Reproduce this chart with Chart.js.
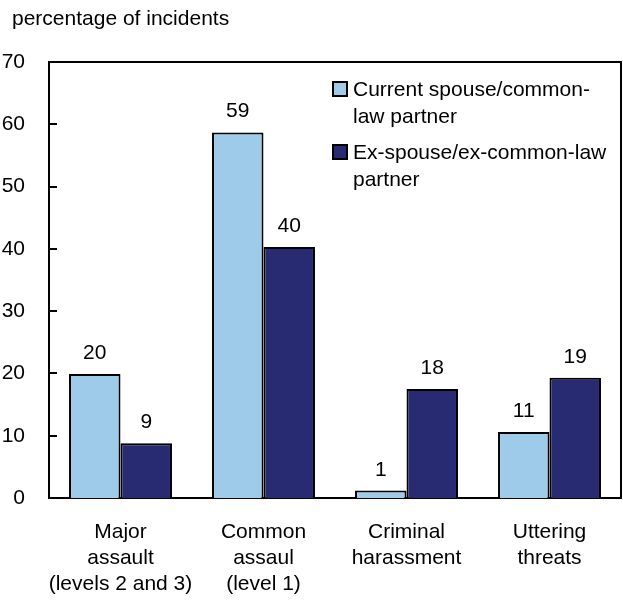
<!DOCTYPE html>
<html>
<head>
<meta charset="utf-8">
<script src="https://cdn.jsdelivr.net/npm/chart.js@4/dist/chart.umd.min.js"></script>
<style>
    body { margin: 0; background: #fff; }
    #wrap { width: 623px; height: 601px; }
</style>
</head>
<body>
<div id="wrap"><canvas id="canvas1"></canvas></div>
<script>
// chart data
let categories = [
    ["Major", "assault", "(levels 2 and 3)"],
    ["Common", "assaul", "(level 1)"],
    ["Criminal", "harassment"],
    ["Uttering", "threats"]
];
let currentSpouse = [19.9, 58.7, 1.2, 10.6];
let exSpouse = [8.8, 40.3, 17.5, 19.3];
let currentLabels = ["20", "59", "1", "11"];
let exLabels = ["9", "40", "18", "19"];
let seriesNames = [
    ["Current spouse/common-", "law partner"],
    ["Ex-spouse/ex-common-law", "partner"]
];
let yTicks = [0, 10, 20, 30, 40, 50, 60, 70];
let yTitle = "percentage of incidents";

const FAMILY = "'Liberation Sans', Arial, sans-serif";
const FONT = "21px " + FAMILY;

// draws the box, inward ticks, value labels, legend and axis title
let extras = {
    id: "extras",
    afterDraw: function (chart) {
        let ctx = chart.ctx;
        let area = chart.chartArea;
        let y = chart.scales.y;
        ctx.save();
        ctx.strokeStyle = "#000";
        ctx.lineWidth = 2;
        ctx.beginPath();
        ctx.moveTo(area.left, area.top);
        ctx.lineTo(area.right, area.top);
        ctx.lineTo(area.right, area.bottom);
        ctx.stroke();
        yTicks.forEach(function (t) {
            let py = Math.round(y.getPixelForValue(t));
            ctx.beginPath();
            ctx.moveTo(area.left, py);
            ctx.lineTo(area.left + 8, py);
            ctx.stroke();
        });

        ctx.font = FONT;
        ctx.fillStyle = "#000";
        ctx.textAlign = "center";
        ctx.textBaseline = "alphabetic";
        let labelSets = [currentLabels, exLabels];
        chart.data.datasets.forEach(function (ds, i) {
            let meta = chart.getDatasetMeta(i);
            meta.data.forEach(function (bar, j) {
                ctx.fillText(labelSets[i][j], bar.x, bar.y - 15);
            });
        });

        // legend
        ctx.textAlign = "left";
        let ly = [82, 145];
        chart.data.datasets.forEach(function (ds, i) {
            ctx.fillStyle = ds.backgroundColor;
            ctx.fillRect(333, ly[i], 14, 14);
            ctx.lineWidth = 2;
            ctx.strokeRect(333, ly[i], 14, 14);
            ctx.fillStyle = "#000";
            seriesNames[i].forEach(function (line, k) {
                ctx.fillText(line, 353, ly[i] + 14 + k * 27);
            });
        });

        ctx.fillText(yTitle, 12, 25);
        ctx.restore();
    }
};

let chartdata = {
    labels: categories,
    datasets: [{
        label: "Current spouse/common-law partner",
        backgroundColor: "#9fcbea",
        borderColor: "#000",
        borderWidth: 2,
        borderSkipped: "bottom",
        data: currentSpouse
    }, {
        label: "Ex-spouse/ex-common-law partner",
        backgroundColor: "#282a72",
        borderColor: "#000",
        borderWidth: 2,
        borderSkipped: "bottom",
        data: exSpouse
    }]
};

new Chart(document.getElementById("canvas1"), {
    type: "bar",
    data: chartdata,
    plugins: [extras],
    options: {
        responsive: true,
        maintainAspectRatio: false,
        animation: false,
        layout: { padding: { top: 62, right: 2, left: 0, bottom: 0 } },
        plugins: {
            legend: { display: false },
            tooltip: { enabled: false }
        },
        datasets: {
            bar: { categoryPercentage: 0.72, barPercentage: 1 }
        },
        scales: {
            x: {
                grid: { display: false },
                border: { display: true, color: "#000", width: 2 },
                ticks: {
                    color: "#000",
                    padding: 13,
                    maxRotation: 0,
                    autoSkip: false,
                    font: { family: FAMILY, size: 21, lineHeight: 1.24 }
                },
                afterFit: function (s) { s.height = 103; }
            },
            y: {
                min: 0,
                max: 70,
                grid: { display: false },
                border: { display: true, color: "#000", width: 2 },
                ticks: {
                    stepSize: 10,
                    color: "#000",
                    padding: 16,
                    font: { family: FAMILY, size: 21 }
                },
                afterFit: function (s) { s.width = 49; }
            }
        }
    }
});
</script>
</body>
</html>
